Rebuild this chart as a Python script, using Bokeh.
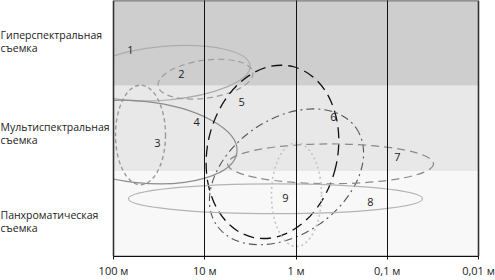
from bokeh.plotting import figure
from bokeh.models import Range1d, FixedTicker, ColumnDataSource
from bokeh.core.properties import value
from bokeh.embed import file_html
from bokeh.resources import INLINE

# x axis: -log10(resolution in metres); tick labels
tick_pos = [-2, -1, 0, 1, 2]
tick_labels = ["100 м", "10 м", "1 м", "0,1 м", "0,01 м"]

# horizontal bands (survey type)
band_line1 = ["Гиперспектральная", "Мультиспектральная", "Панхроматическая"]
band_line2 = ["съемка", "съемка", "съемка"]
band_bottom = [2, 1, 0]
band_top = [3, 2, 1]
band_colors = ["#cecece", "#e8e8e8", "#f8f8f8"]
band_y1 = [2.591, 1.517, 0.490]
band_y2 = [2.440, 1.366, 0.339]

# systems (ellipses): centre, size, rotation
curve_ids = ["1", "2", "3", "4", "5", "6", "7", "8", "9"]
cx = [-1.43, -0.992, -1.704, -1.704, -0.258, -0.104, 0.378, -0.225, 0.005]
cy = [2.148, 2.078, 1.424, 1.342, 1.226, 0.934, 1.086, 0.677, 0.724]
cw = [1.86, 1.05, 0.548, 2.126, 1.425, 1.863, 2.258, 3.222, 0.548]
ch = [0.630, 0.444, 1.167, 0.957, 2.054, 1.354, 0.467, 0.350, 1.214]
cang = [5, 8, 0, -6, -13, 35, 0, 0, 0]
label_x = [-1.814, -1.255, -1.518, -1.090, -0.597, 0.411, 1.112, 0.816, -0.115]
label_y = [2.416, 2.136, 1.331, 1.576, 1.809, 1.634, 1.167, 0.642, 0.689]

curve_colors = ["#acacac", "#9c9c9c", "#9a9a9a", "#8c8c8c", "#111111", "#555555", "#8a8a8a", "#b4b4b4", "#c4c4c4"]
curve_dash = ["solid", "6 4", "4 3", "solid", "11 6", "8 4 2 4", "8 5", "solid", "2 3"]
curve_width = [1.2, 1.2, 1.4, 1.2, 1.3, 1.1, 1.2, 1.2, 1.6]

x_lo = min(tick_pos) - 113 / 91.25
x_hi = max(tick_pos) + 17 / 91.25

p = figure(width=495, height=280, output_backend="svg", toolbar_location=None,
           x_range=Range1d(x_lo, x_hi), y_range=Range1d(min(band_bottom), max(band_top)),
           min_border_left=0, min_border_right=0, min_border_top=0, min_border_bottom=23)
p.background_fill_color = "white"
p.border_fill_color = "white"
p.outline_line_color = None

p.quad(left=min(tick_pos), right=max(tick_pos), bottom=band_bottom, top=band_top,
       fill_color=band_colors, line_color=None)

for i in range(len(curve_ids)):
    src = ColumnDataSource(dict(x=[cx[i]], y=[cy[i]], w=[cw[i]], h=[ch[i]], a=[cang[i]]))
    p.ellipse(x="x", y="y", width="w", height="h", angle="a", angle_units="deg", source=src,
              fill_color=None, line_color=curve_colors[i], line_dash=curve_dash[i],
              line_width=curve_width[i])

# white mask left of the chart area (curves are cut at the 100 m edge)
p.quad(left=x_lo, right=min(tick_pos), bottom=min(band_bottom), top=max(band_top),
       fill_color="white", line_color=None)

# chart area outline
p.quad(left=min(tick_pos), right=max(tick_pos), bottom=min(band_bottom), top=max(band_top),
       fill_color=None, line_color="#333333", line_width=1.6)

p.text(x=label_x, y=label_y, text=curve_ids, text_font=value("Open Sans"),
       text_font_size="11px", text_color="#222222", text_align="center", text_baseline="middle")

p.text(x=[x_lo] * 3, y=band_y1, text=band_line1, text_font=value("Open Sans"),
       text_font_size="10.5px", text_color="#222222", text_align="left", text_baseline="middle")
p.text(x=[x_lo] * 3, y=band_y2, text=band_line2, text_font=value("Open Sans"),
       text_font_size="10.5px", text_color="#222222", text_align="left", text_baseline="middle")

p.xaxis.ticker = FixedTicker(ticks=tick_pos)
p.xaxis.bounds = (min(tick_pos), max(tick_pos))
p.xaxis.major_label_overrides = {t: l for t, l in zip(tick_pos, tick_labels)}
p.xaxis.major_label_text_font = "Open Sans"
p.xaxis.major_label_text_font_size = "11px"
p.xaxis.major_label_text_color = "#222222"
p.xaxis.axis_line_color = "#111111"
p.xaxis.axis_line_width = 1.2
p.xaxis.major_tick_line_color = "#111111"
p.xaxis.major_tick_out = 3
p.xaxis.major_tick_in = 0
p.xaxis.minor_tick_line_color = None
p.xaxis.major_label_standoff = 3
p.yaxis.visible = False

p.xgrid.ticker = FixedTicker(ticks=tick_pos[1:-1])
p.xgrid.grid_line_color = "#111111"
p.xgrid.grid_line_width = 1
p.xgrid.level = "overlay"
p.ygrid.grid_line_color = None

open("out.html", "w").write(file_html(p, INLINE))
